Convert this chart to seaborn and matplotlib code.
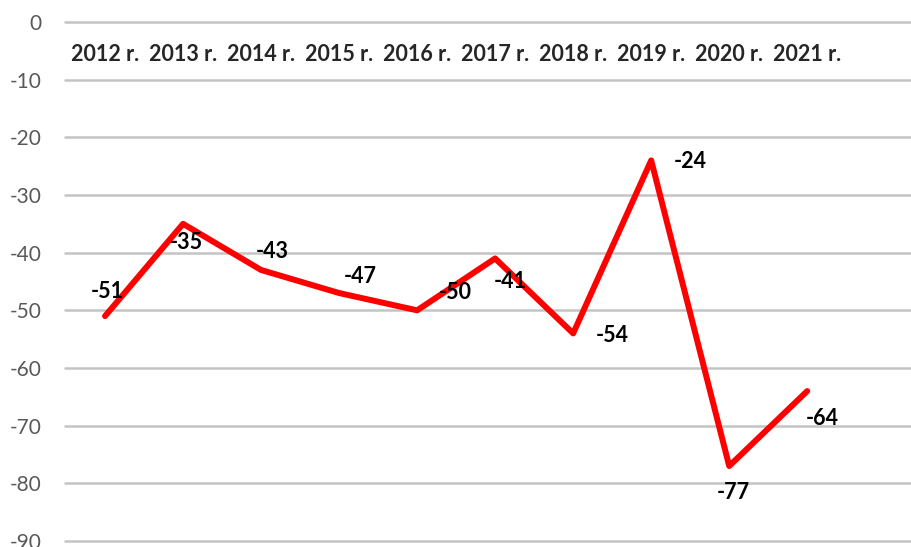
import matplotlib
matplotlib.use("Agg")
import matplotlib.pyplot as plt
import seaborn as sns
import pandas as pd

years = ["2012 r.", "2013 r.", "2014 r.", "2015 r.", "2016 r.",
         "2017 r.", "2018 r.", "2019 r.", "2020 r.", "2021 r."]
values = [-51, -35, -43, -47, -50, -41, -54, -24, -77, -64]
yticks = [0, -10, -20, -30, -40, -50, -60, -70, -80, -90]

# label offsets in pixels (dx, dy up)
label_offsets = [(2, 25), (3, -19), (11, 18), (21, 17), (38, 18),
                 (15, -23), (39, -2), (39, -1), (4, -26), (15, -27)]

sns.set_style("white")
plt.rcParams['font.family'] = ['Lato', 'DejaVu Sans']

df = pd.DataFrame({"year": years, "value": values})

fig = plt.figure(figsize=(9.11, 5.47), dpi=100)
ax = fig.add_axes([65 / 911, 6 / 547, 1 - 65 / 911, (541 - 22) / 547])

sns.lineplot(data=df, x="year", y="value", color="#ff0000", linewidth=4.3,
             ax=ax, sort=False)

px = 72 / 100
for i, (v, (dx, dy)) in enumerate(zip(values, label_offsets)):
    ax.annotate(f"{v}", (i, v), xytext=(dx * px, dy * px), textcoords="offset points",
                ha="center", va="center", fontsize=15.5, fontweight="bold", color="black")

ax.set_ylim(-90, 0)
ax.set_xlim(-0.513, 10.33)
ax.set_yticks(yticks)
ax.set_yticklabels([str(t) for t in yticks], fontsize=15, color="#595959")
ax.yaxis.grid(True, color="#c4c4c4", linewidth=1.8)
ax.set_axisbelow(True)
for gl in ax.get_ygridlines():
    gl.set_clip_on(False)

ax.xaxis.set_ticks_position("top")
ax.set_xticks(range(len(years)))
ax.set_xticklabels(years, fontsize=15.5, fontweight="bold")
ax.tick_params(axis="x", length=0, pad=-31)
ax.tick_params(axis="y", length=0, pad=17)
ax.set_xlabel("")
ax.set_ylabel("")
sns.despine(ax=ax, left=True, bottom=True, top=True, right=True)

fig.savefig("out.png", dpi=100)
